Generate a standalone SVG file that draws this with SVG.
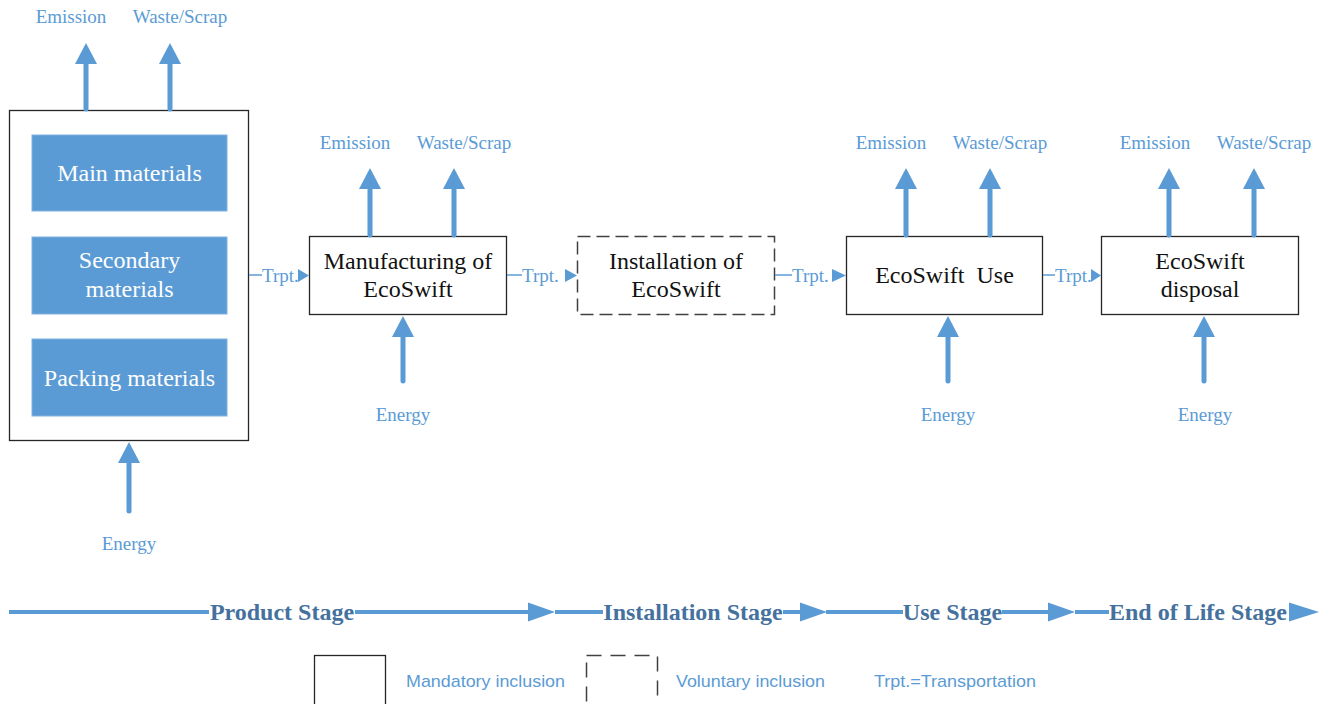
<svg xmlns="http://www.w3.org/2000/svg" width="1322" height="704" viewBox="0 0 1322 704">
<defs>
<style>
.box{fill:#fff;stroke:#262626;stroke-width:1.3}
.dash{fill:#fff;stroke:#404040;stroke-width:1.5;stroke-dasharray:13 6}
.mat{fill:#5b9bd5;stroke:#7eb1e0;stroke-width:1}
.nt{font-family:"Liberation Serif","Times New Roman",serif;font-size:24px;fill:#111;text-anchor:middle}
.mt{font-family:"Liberation Serif","Times New Roman",serif;font-size:24px;fill:#fff;text-anchor:middle}
.lb{font-family:"Liberation Serif","Times New Roman",serif;font-size:19px;fill:#5b9bd5;text-anchor:middle}
.tp{font-family:"Liberation Serif","Times New Roman",serif;font-size:19px;fill:#5b9bd5}
.st{font-family:"Liberation Serif","Times New Roman",serif;font-size:24px;font-weight:bold;fill:#44719e;text-anchor:middle}
.lg{font-family:"Liberation Sans",Arial,sans-serif;font-size:17px;fill:#5b9bd5}
.arr{stroke:#5b9bd5;stroke-width:5;stroke-linecap:round;fill:none;marker-end:url(#ah)}
.thin{stroke:#5b9bd5;stroke-width:1.5;fill:none}
.sl{stroke:#5b9bd5;stroke-width:4;fill:none}
.hd{fill:#5b9bd5}
</style>
<marker id="ah" viewBox="0 0 21 22" markerWidth="21" markerHeight="22" refX="1" refY="11" orient="auto" markerUnits="userSpaceOnUse">
<path d="M0,0 L21,11 L0,22 Z" fill="#5b9bd5"/>
</marker>
</defs>

<g id="raw-materials">
<rect class="box" x="9.5" y="110.5" width="239" height="330"/>
<rect class="mat" x="32" y="135" width="195" height="76"/>
<text class="mt" x="129.5" y="181">Main materials</text>
<rect class="mat" x="32" y="237" width="195" height="77"/>
<text class="mt" x="129.5" y="268">Secondary</text>
<text class="mt" x="129.5" y="297">materials</text>
<rect class="mat" x="32" y="339" width="195" height="77"/>
<text class="mt" x="129.5" y="386">Packing materials</text>
</g>

<g id="manufacturing">
<rect class="box" x="309.5" y="236.5" width="197" height="78"/>
<text class="nt" x="408" y="269">Manufacturing of</text>
<text class="nt" x="408" y="297">EcoSwift</text>
</g>

<g id="installation">
<rect class="dash" x="577.5" y="236.5" width="197" height="78"/>
<text class="nt" x="676" y="269">Installation of</text>
<text class="nt" x="676" y="297">EcoSwift</text>
</g>

<g id="use">
<rect class="box" x="846.5" y="236.5" width="196" height="78"/>
<text class="nt" x="944.5" y="283" xml:space="preserve">EcoSwift  Use</text>
</g>

<g id="disposal">
<rect class="box" x="1101.5" y="236.5" width="197" height="78"/>
<text class="nt" x="1200" y="269">EcoSwift</text>
<text class="nt" x="1200" y="297">disposal</text>
</g>

<g id="flow-labels">
<text class="lb" x="71" y="23">Emission</text>
<text class="lb" x="180" y="23">Waste/Scrap</text>
<text class="lb" x="129" y="550">Energy</text>
<text class="lb" x="355" y="149">Emission</text>
<text class="lb" x="464" y="149">Waste/Scrap</text>
<text class="lb" x="403" y="421">Energy</text>
<text class="lb" x="891" y="149">Emission</text>
<text class="lb" x="1000" y="149">Waste/Scrap</text>
<text class="lb" x="948" y="421">Energy</text>
<text class="lb" x="1155" y="149">Emission</text>
<text class="lb" x="1264" y="149">Waste/Scrap</text>
<text class="lb" x="1205" y="421">Energy</text>
</g>

<g id="connectors">
<line class="arr" x1="86" y1="109" x2="86" y2="63"/>
<line class="arr" x1="170" y1="109" x2="170" y2="63"/>
<line class="arr" x1="129" y1="511" x2="129" y2="462"/>
<line class="arr" x1="370" y1="235" x2="370" y2="188"/>
<line class="arr" x1="454" y1="235" x2="454" y2="188"/>
<line class="arr" x1="403" y1="381" x2="403" y2="336"/>
<line class="arr" x1="906" y1="235" x2="906" y2="188"/>
<line class="arr" x1="990" y1="235" x2="990" y2="188"/>
<line class="arr" x1="948" y1="381" x2="948" y2="336"/>
<line class="arr" x1="1169" y1="235" x2="1169" y2="188"/>
<line class="arr" x1="1254" y1="235" x2="1254" y2="188"/>
<line class="arr" x1="1204" y1="381" x2="1204" y2="336"/>

<line class="thin" x1="249" y1="275" x2="262" y2="275"/>
<text class="tp" x="262" y="282">Trpt.</text>
<path class="hd" d="M298,269 L309,275.5 L298,282 Z"/>
<line class="thin" x1="507" y1="275" x2="522" y2="275"/>
<text class="tp" x="522" y="282">Trpt.</text>
<path class="hd" d="M565,269 L577,275.5 L565,282 Z"/>
<line class="thin" x1="775" y1="275" x2="792" y2="275"/>
<text class="tp" x="792" y="282">Trpt.</text>
<path class="hd" d="M832,269 L846,275.5 L832,282 Z"/>
<line class="thin" x1="1043" y1="275" x2="1055" y2="275"/>
<text class="tp" x="1055" y="282">Trpt.</text>
<path class="hd" d="M1091,269 L1101,275.5 L1091,282 Z"/>
</g>

<g id="stages">
<line class="sl" x1="9" y1="612" x2="209" y2="612"/>
<text class="st" x="282" y="620">Product Stage</text>
<line class="sl" x1="355" y1="612" x2="530" y2="612"/>
<path class="hd" d="M528,602.5 L555,612 L528,621.5 Z"/>
<line class="sl" x1="555" y1="612" x2="603" y2="612"/>
<text class="st" x="693" y="620">Installation Stage</text>
<line class="sl" x1="783" y1="612" x2="802" y2="612"/>
<path class="hd" d="M800,602.5 L827,612 L800,621.5 Z"/>
<line class="sl" x1="826" y1="612" x2="903" y2="612"/>
<text class="st" x="952.5" y="620">Use Stage</text>
<line class="sl" x1="1002" y1="612" x2="1050" y2="612"/>
<path class="hd" d="M1048,602.5 L1075,612 L1048,621.5 Z"/>
<line class="sl" x1="1075" y1="612" x2="1109" y2="612"/>
<text class="st" x="1198" y="620">End of Life Stage</text>
<path class="hd" d="M1289,602.5 L1319,612 L1289,621.5 Z"/>
</g>

<g id="legend">
<rect class="box" x="314.5" y="655.5" width="71" height="60"/>
<text class="lg" x="406" y="687" textLength="159" lengthAdjust="spacingAndGlyphs">Mandatory inclusion</text>
<rect class="dash" x="586.5" y="655.5" width="71" height="60" style="stroke-dasharray:15 9"/>
<text class="lg" x="676" y="687" textLength="149" lengthAdjust="spacingAndGlyphs">Voluntary inclusion</text>
<text class="lg" x="874" y="687" textLength="162" lengthAdjust="spacingAndGlyphs">Trpt.=Transportation</text>
</g>
</svg>
